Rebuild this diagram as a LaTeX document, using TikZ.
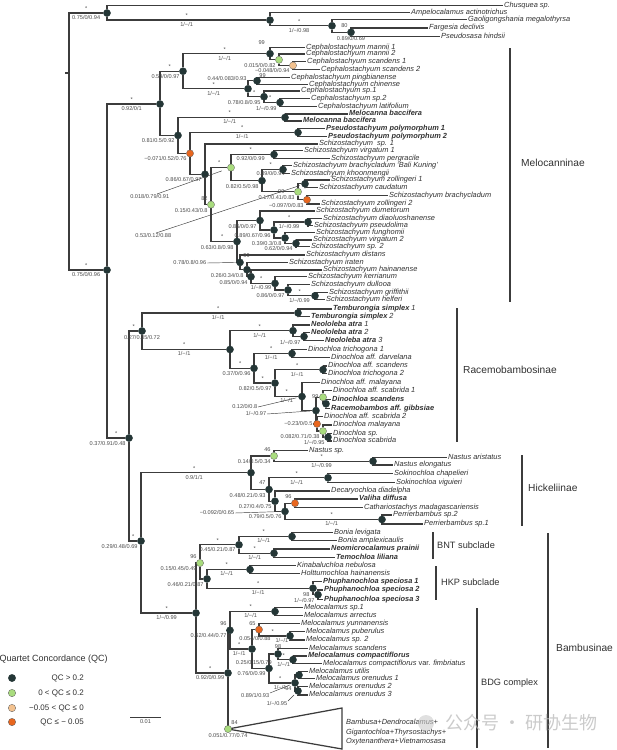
\documentclass[tikz,border=0pt]{standalone}
\usepackage{fontspec}
\setmainfont{Liberation Sans}
\newfontfamily\cjkfont{Noto Sans CJK SC}
\usetikzlibrary{backgrounds}

\definecolor{branchc}{HTML}{3C3C3C}
\definecolor{tipc}{HTML}{303030}
\definecolor{supc}{HTML}{4A4A4A}
\definecolor{qhigh}{HTML}{243636}
\definecolor{qlow}{HTML}{A9DC7E}
\definecolor{qzero}{HTML}{F3C28F}
\definecolor{qneg}{HTML}{E8661E}

\newcommand\taxfont{\fontsize{7.4}{8}\selectfont\itshape}
\newcommand\supfont{\fontsize{5.6}{6}\selectfont}

\begin{document}
\begin{tikzpicture}
      [x = 1pt, y = -1pt,
      brch/.style = {draw = branchc, line width = 1.25pt},
      ldr/.style = {draw = branchc, line width = 0.45pt},
      cbar/.style = {draw = branchc, line width = 1.4pt},
      taxon/.style = {
         anchor = west,
         inner sep = 1pt,
         text height = 5.4pt,
         text depth = 1.6pt,
         text = tipc,
         font = \taxfont
      },
      taxonb/.style = {taxon, font = \taxfont\bfseries},
      supt/.style = {
         font = \supfont,
         text = supc,
         inner sep = 0.6pt,
         text height = 4.1pt,
         text depth = 1.1pt
      },
      startag/.style = {supt, pos = .75, above = 0.3pt},
      triptag/.style = {supt, pos = .75, below = 1pt},
      qdot/.style = {
         circle,
         inner sep = 0pt,
         minimum size = 7.2pt,
         draw = black!65,
         line width = 0.3pt
      },
      qhi/.style = {qdot, fill = qhigh, draw = qhigh},
      qlo/.style = {qdot, fill = qlow},
      qzero/.style = {qdot, fill = qzero},
      qneg/.style = {qdot, fill = qneg},
      cladelab/.style = {anchor = west, inner sep = 1pt, text = tipc, font = \fontsize{10.2}{12}\selectfont},
      sublab/.style = {anchor = west, inner sep = 1pt, text = tipc, font = \fontsize{9.2}{11}\selectfont},
      keytext/.style = {anchor = east, inner sep = 1pt, text = tipc, font = \fontsize{8}{9}\selectfont}]

      \useasboundingbox (0,0) rectangle (617,750);

      % taxa
      \node[taxon] (chu) at (503,5.6) {Chusquea sp.};
      \node[taxon] (amp) at (410,12.8) {Ampelocalamus actinotrichus};
      \node[taxon] (gao) at (467,19.4) {Gaoligongshania megalothyrsa};
      \node[taxon] (far) at (428,28) {Fargesia declivis};
      \node[taxon] (pse) at (440,36.7) {Pseudosasa hindsii};
      \node[taxon] (cm1) at (305,47.7) {Cephalostachyum mannii 1};
      \node[taxon] (cm2) at (305,54) {Cephalostachyum mannii 2};
      \node[taxon] (cs1) at (306,61.5) {Cephalostachyum scandens 1};
      \node[taxon] (cs2) at (320,69.5) {Cephalostachyum scandens 2};
      \node[taxon] (cpi) at (290,77.3) {Cephalostachyum pingbianense};
      \node[taxon] (cch) at (308,84.3) {Cephalostachyum chinense};
      \node[taxon] (cp1) at (300,91) {Cephalostachyum sp.1};
      \node[taxon] (cp2) at (310,98.5) {Cephalostachyum sp.2};
      \node[taxon] (cla) at (317,106.5) {Cephalostachyum latifolium};
      \node[taxonb] (mb1) at (348,114) {Melocanna baccifera};
      \node[taxonb] (mb2) at (302,121) {Melocanna baccifera};
      \node[taxonb] (pp1) at (325,128.5) {Pseudostachyum polymorphum 1};
      \node[taxonb] (pp2) at (327,136.5) {Pseudostachyum polymorphum 2};
      \node[taxon] (ss1) at (318,144) {Schizostachyum \ sp. 1};
      \node[taxon] (sv1) at (303,150.7) {Schizostachyum virgatum 1};
      \node[taxon] (spe) at (330,158.3) {Schizostachyum pergracile};
      \node[taxon] (sbk) at (292,165.7) {Schizostachyum brachycladum ‘Bali Kuning’};
      \node[taxon] (skh) at (290,173.3) {Schizostachyum khoonmengii};
      \node[taxon] (sz1) at (330,180) {Schizostachyum zollingeri 1};
      \node[taxon] (sca) at (318,187.7) {Schizostachyum caudatum};
      \node[taxon] (sbr) at (388,195.7) {Schizostachyum brachycladum};
      \node[taxon] (sz2) at (320,204) {Schizostachyum zollingeri 2};
      \node[taxon] (sdu) at (315,211) {Schizostachyum dumetorum};
      \node[taxon] (sdi) at (322,218.3) {Schizostachyum diaoluoshanense};
      \node[taxon] (sps) at (313,225.7) {Schizostachyum pseudolima};
      \node[taxon] (sfu) at (315,232.7) {Schizostachyum funghomii};
      \node[taxon] (sv2) at (312,240) {Schizostachyum virgatum 2};
      \node[taxon] (ss2) at (310,246.7) {Schizostachyum sp. 2};
      \node[taxon] (sds) at (305,255) {Schizostachyum distans};
      \node[taxon] (sir) at (288,262.7) {Schizostachyum iraten};
      \node[taxon] (sha) at (322,270) {Schizostachyum hainanense};
      \node[taxon] (ske) at (307,276.7) {Schizostachyum kerrianum};
      \node[taxon] (sdl) at (310,284.3) {Schizostachyum dullooa};
      \node[taxon] (sgr) at (328,292.3) {Schizostachyum griffithii};
      \node[taxon] (shf) at (325,299.3) {Schizostachyum helferi};
      \node[taxon] (ts1) at (332,309) {\textbf{Temburongia simplex} 1};
      \node[taxon] (ts2) at (310,316.7) {\textbf{Temburongia simplex} 2};
      \node[taxon] (na1) at (310,325) {\textbf{Neololeba atra} 1};
      \node[taxon] (na2) at (310,332.3) {\textbf{Neololeba atra} 2};
      \node[taxon] (na3) at (324,340.7) {\textbf{Neololeba atra} 3};
      \node[taxon] (dt1) at (307,349.3) {Dinochloa trichogona 1};
      \node[taxon] (dda) at (330,357.7) {Dinochloa aff. darvelana};
      \node[taxon] (das) at (327,366) {Dinochloa aff. scandens};
      \node[taxon] (dt2) at (327,373.3) {Dinochloa trichogona 2};
      \node[taxon] (dam) at (320,382.3) {Dinochloa aff. malayana};
      \node[taxon] (db1) at (332,390.7) {Dinochloa aff. scabrida 1};
      \node[taxonb] (dsc) at (331,399.3) {Dinochloa scandens};
      \node[taxonb] (rag) at (330,408.3) {Racemobambos aff. gibbsiae};
      \node[taxon] (db2) at (323,416.7) {Dinochloa aff. scabrida 2};
      \node[taxon] (dma) at (332,425) {Dinochloa malayana};
      \node[taxon] (dsp) at (332,433.3) {Dinochloa sp.};
      \node[taxon] (dsb) at (332,441) {Dinochloa scabrida};
      \node[taxon] (nsp) at (308,450.7) {Nastus sp.};
      \node[taxon] (nar) at (447,457.3) {Nastus aristatus};
      \node[taxon] (nel) at (393,465) {Nastus elongatus};
      \node[taxon] (sch) at (393,473.3) {Sokinochloa chapelieri};
      \node[taxon] (svi) at (395,482.3) {Sokinochloa viguieri};
      \node[taxon] (ddi) at (330,491) {Decaryochloa diadelpha};
      \node[taxonb] (vdi) at (358,499) {Valiha diffusa};
      \node[taxon] (cma) at (363,507.3) {Cathariostachys madagascariensis};
      \node[taxon] (pb2) at (392,515) {Perrierbambus sp.2};
      \node[taxon] (pb1) at (423,524) {Perrierbambus sp.1};
      \node[taxon] (ble) at (333,532.3) {Bonia levigata};
      \node[taxon] (bam) at (337,540.7) {Bonia amplexicaulis};
      \node[taxonb] (npr) at (330,549) {Neomicrocalamus prainii};
      \node[taxonb] (tli) at (335,557.3) {Temochloa liliana};
      \node[taxon] (kne) at (296,565.7) {Kinabaluchloa nebulosa};
      \node[taxon] (hha) at (300,573.3) {Holttumochloa hainanensis};
      \node[taxonb] (ps1) at (322,581.7) {Phuphanochloa speciosa 1};
      \node[taxonb] (ps2) at (323,590) {Phuphanochloa speciosa 2};
      \node[taxonb] (ps3) at (323,599.3) {Phuphanochloa speciosa 3};
      \node[taxon] (ms1) at (303,607.3) {Melocalamus sp.1};
      \node[taxon] (mar) at (303,615.7) {Melocalamus arrectus};
      \node[taxon] (myu) at (300,623.3) {Melocalamus yunnanensis};
      \node[taxon] (mpu) at (305,631.7) {Melocalamus puberulus};
      \node[taxon] (ms2) at (305,640) {Melocalamus sp. 2};
      \node[taxon] (msc) at (308,648.3) {Melocalamus scandens};
      \node[taxonb] (mco) at (307,656) {Melocalamus compactiflorus};
      \node[taxon] (mcf) at (322,663.3) {Melocalamus compactiflorus \textup{var.} fimbriatus};
      \node[taxon] (mut) at (308,671.7) {Melocalamus utilis};
      \node[taxon] (mo1) at (315,678.3) {Melocalamus orenudus 1};
      \node[taxon] (mo2) at (308,686.7) {Melocalamus orenudus 2};
      \node[taxon] (mo3) at (308,695) {Melocalamus orenudus 3};
      \node[taxon] (bdg1) at (345,723) {Bambusa+Dendrocalamus+};
      \node[taxon] (bdg2) at (345,733) {Gigantochloa+Thyrsostachys+};
      \node[taxon] (bdg3) at (345,742) {Oxytenanthera+Vietnamosasa};

      % nodes
      \coordinate (r0) at (69,73);
      \coordinate (rstub) at (65,73);
      \node[qhi] (o1) at (107,13) {};
      \node[qhi] (o2) at (270,20.1) {};
      \node[qhi] (o3) at (332,25.8) {};
      \node[qhi, label = {[supt]above left:80}, label = {[supt]below:0.89/0/0.69}] (o4) at (351,32.3) {};
      \node[qhi] (a0) at (107,270) {};
      \node[qhi] (m0) at (160,104) {};
      \node[qhi, label = {[supt]below left:0.59/0/0.97}] (m1) at (183,71.2) {};
      \node[qhi, label = {[supt, label distance = 5pt]120:99}] (m2) at (270,53.7) {};
      \node[qlo, label = {[supt]below left:0.015/0/0.82}] (g1) at (279,59.8) {};
      \node[qzero, label = {[supt, yshift = 1pt]below left:−0.048/0/0.94}] (p1) at (293,65.5) {};
      \node[qhi] (m3) at (248,88.8) {};
      \node[qhi, label = {[supt, label distance = 6pt, yshift = 1.5pt]left:0.44/0.083/0.93}, label = {[supt, label distance = -1.5pt]above right:99}] (m3a) at (257,80.8) {};
      \node[qhi, label = {[supt]below left:0.78/0.8/0.95}] (m3b) at (264,96.7) {};
      \node[qhi, label = {[supt]below left:1/−/0.99}] (m3c) at (280,102.5) {};
      \node[qhi, label = {[supt]below left:0.81/0.5/0.92}] (m4) at (178,135.4) {};
      \node[qhi] (mc) at (285,117.5) {};
      \node[qneg, label = {[supt]below left:−0.071/0.52/0.76}] (pq) at (190,153.4) {};
      \node[qhi] (ps) at (298,132.5) {};
      \node[qhi, label = {[supt]below left:0.86/0.67/0.97}] (d1) at (205,174.3) {};
      \node[qlo, label = {[supt]above left:82}, label = {[supt]below left:0.15/0.43/0.8}] (g3) at (211,204.6) {};
      \node[qlo] (g2) at (231,167.6) {};
      \node[qhi] (s1) at (274,154.5) {};
      \node[qhi, label = {[supt]below left:0.82/0.5/0.98}] (s4) at (262,180.7) {};
      \node[qhi] (s2) at (283,169.5) {};
      \node[qlo, label = {[supt, label distance = 9pt]left:99}, label = {[supt]below left:0.17/0.41/0.83}] (g4) at (298,191.8) {};
      \node[qhi] (s3) at (305,183.8) {};
      \node[qneg, label = {[supt]below left:−0.097/0/0.83}] (s5) at (307,199.8) {};
      \node[qhi, label = {[supt]below left:0.63/0.8/0.98}] (l0) at (237,241.5) {};
      \node[qhi, label = {[supt]below left:0.86/0/0.97}] (u1) at (260,220.5) {};
      \node[qhi, label = {[supt]below left:0.89/0.67/0.96}] (u2) at (274,230) {};
      \node[qhi] (nd) at (308,222) {};
      \node[qhi, label = {[supt]below left:0.39/0.3/0.8}] (u3) at (285,238) {};
      \node[qhi, label = {[supt]below left:0.62/0/0.94}] (u4) at (296,243.4) {};
      \node[qhi, label = {[supt]above right:99}] (v1) at (240,262.4) {};
      \node[qhi, label = {[supt]below left:0.26/0.34/0.8}] (v2) at (247,269.7) {};
      \node[qhi, label = {[supt]below left:0.85/0/0.94}] (v3) at (251,276.7) {};
      \node[qhi] (v4) at (275,283.4) {};
      \node[qhi, label = {[supt]below left:0.86/0/0.97}] (v5) at (288,290) {};
      \node[qhi] (v6) at (315,295.8) {};
      \node[qhi, label = {[supt]below left:0.37/0.91/0.48}] (c0) at (129,438) {};
      \node[qhi, label = {[supt]below:0.27/0.35/0.72}] (rb) at (142,331) {};
      \node[qhi] (tem) at (298,312.9) {};
      \node[qhi] (r1) at (230,349.5) {};
      \node[qhi] (ne) at (293,330.7) {};
      \node[qhi, label = {[supt]below left:1/−/0.97}] (ne2) at (304,336.5) {};
      \node[qhi, label = {[supt]below left:0.37/0/0.96}] (r2) at (254,368.3) {};
      \node[qhi] (t1) at (292,353.5) {};
      \node[qhi, label = {[supt]below left:0.82/0.5/0.97}] (r3) at (275,383.1) {};
      \node[qhi] (t2) at (323,369.7) {};
      \node[qhi] (r4) at (302,396.5) {};
      \node[qhi] (r5) at (316,410.6) {};
      \node[qlo, label = {[supt]left:99}] (r6) at (323,397.2) {};
      \node[qhi] (r6b) at (326,403.8) {};
      \node[qneg, label = {[supt]left:−0.23/0/0.5}] (r7) at (317,423.9) {};
      \node[qlo, label = {[supt]below left:0.082/0.71/0.38}] (r8) at (323,431.1) {};
      \node[qhi, label = {[supt]below left:1/−/0.95}] (r9) at (328,437.2) {};
      \node[qhi, label = {[supt]below left:0.29/0.48/0.69}] (b0) at (141,541) {};
      \node[qhi] (h0) at (251,472.7) {};
      \node[qlo, label = {[supt]above left:46}, label = {[supt]below left:0.14/0.5/0.34}] (nsg) at (274,455.9) {};
      \node[qhi] (na) at (373,461.2) {};
      \node[qhi, label = {[supt]above left:47}, label = {[supt]below left:0.48/0.21/0.93}] (h1) at (269,489.5) {};
      \node[qhi] (sok) at (328,477.8) {};
      \node[qhi, label = {[supt]below left:0.27/0.4/0.75}] (h2) at (275,501.2) {};
      \node[qhi, label = {[supt]below left:0.79/0.5/0.76}] (h3) at (285,511.4) {};
      \node[qneg, label = {[supt]above left:96}] (h4) at (295,503.2) {};
      \node[qhi] (pb) at (382,519.5) {};
      \node[qhi] (b1) at (196,613) {};
      \node[qlo, label = {[supt]above left:96}, label = {[supt]below left:0.15/0.45/0.49}] (gb) at (200,563) {};
      \node[qhi] (bn) at (239,544.8) {};
      \node[qhi] (bon) at (292,536.5) {};
      \node[qhi] (neo) at (274,553.2) {};
      \node[qhi, label = {[supt]below left:0.46/0.21/0.87}] (hk) at (207,578.9) {};
      \node[qhi] (kin) at (250,569.5) {};
      \node[qhi] (phu) at (313,588.2) {};
      \node[qhi, label = {[supt, label distance = 4pt]left:98}, label = {[supt]below left:1/−/0.97}] (phu2) at (318,594.7) {};
      \node[qhi] (bd) at (228,673) {};
      \node[qhi, label = {[supt]below left:0.62/0.44/0.77}, label = {[supt]above left:96}] (mel) at (230,630.3) {};
      \node[qhi] (ml1) at (275,611.5) {};
      \node[qhi] (m5) at (252,649) {};
      \node[qneg, label = {[supt]above left:65}, label = {[supt, xshift = -4pt, label distance = 2.5pt]below:0.054/0/0.88}] (mo4) at (259,629.6) {};
      \node[qhi] (mpn) at (290,635.9) {};
      \node[qhi, label = {[supt]below left:0.76/0/0.99}] (m6) at (269,668.4) {};
      \node[qhi, label = {[supt]above:98}, label = {[supt, label distance = 4pt]below left:0.25/0.15/0.79}] (m7) at (278,654) {};
      \node[qhi] (m7b) at (293,659.7) {};
      \node[qhi, label = {[supt]below left:94}] (m8) at (295,682.9) {};
      \node[qhi] (mu) at (299,675) {};
      \node[qhi] (mo) at (298,690.9) {};
      \node[qlo, label = {[supt]above right:84}, label = {[supt]below:0.051/0.77/0.74}] (gt) at (228,729) {};

      % leader lines
      \coordinate (k1) at (157,194);
      \coordinate (k2) at (156,233);
      \coordinate (k3) at (207,263);
      \coordinate (k4) at (258,407);
      \coordinate (k5) at (267,414);
      \coordinate (k6) at (235,513);
      \coordinate (k7) at (270,693);
      \coordinate (k8) at (288,701);
      \draw[ldr, shorten <= 6pt] (g2) -- (k1) node[supt, anchor = north east, xshift = 13pt] {0.018/0.79/0.91};
      \draw[ldr, shorten <= 2pt] (s3) -- (k2) node[supt, anchor = north east, xshift = 16pt] {0.53/0.12/0.88};
      \draw[ldr] (v1) -- (k3) node[supt, anchor = east] {0.78/0.8/0.96};
      \draw[ldr, shorten <= 2pt] (r4) -- (k4) node[supt, anchor = east] {0.12/0/0.8};
      \draw[ldr, shorten <= 2pt] (r5) -- (k5) node[supt, anchor = east] {1/−/0.97};
      \draw[ldr, shorten <= 4pt] (h3) -- (k6) node[supt, anchor = east] {−0.092/0/0.65};
      \draw[ldr, shorten <= 2pt] (m8) -- (k7) node[supt, anchor = north east] {0.89/1/0.93};
      \draw[ldr, shorten <= 2pt] (mo) -- (k8) node[supt, anchor = north east] {1/−/0.95};

      \begin{scope}[on background layer]
      \draw[brch] (rstub) -- (r0);
      \draw[brch] (r0) |- (o1) node[startag] {*} node[triptag] {0.75/0/0.94};
      \draw[brch] (o1) |- (chu.west);
      \draw[brch] (o1) |- (o2) node[startag] {*} node[triptag] {1/−/1};
      \draw[brch] (o2) |- (amp.west);
      \draw[brch] (o2) |- (o3) node[startag] {*} node[triptag] {1/−/0.98};
      \draw[brch] (o3) |- (gao.west);
      \draw[brch] (o3) |- (o4);
      \draw[brch] (o4) |- (far.west);
      \draw[brch] (o4) |- (pse.west);

      \draw[brch] (r0) |- (a0) node[startag] {*} node[triptag] {0.75/0/0.96};
      \draw[brch] (a0) |- (m0) node[startag] {*} node[triptag] {0.92/0/1};
      \draw[brch] (m0) |- (m1) node[startag] {*};
      \draw[brch] (m1) |- (m2) node[startag] {*} node[triptag] {1/−/1};
      \draw[brch] (m2) |- (cm1.west);
      \draw[brch] (m2) |- (g1);
      \draw[brch] (g1) |- (cm2.west);
      \draw[brch] (g1) |- (p1);
      \draw[brch] (p1) |- (cs1.west);
      \draw[brch] (p1) |- (cs2.west);
      \draw[brch] (m1) |- (m3) node[startag] {*} node[triptag] {1/−/1};
      \draw[brch] (m3) |- (m3a);
      \draw[brch] (m3a) |- (cpi.west);
      \draw[brch] (m3a) |- (cch.west);
      \draw[brch] (m3) |- (m3b) node[startag] {*};
      \draw[brch] (m3b) |- (cp1.west);
      \draw[brch] (m3b) |- (m3c) node[startag] {*};
      \draw[brch] (m3c) |- (cp2.west);
      \draw[brch] (m3c) |- (cla.west);
      \draw[brch] (m0) |- (m4);
      \draw[brch] (m4) |- (mc) node[startag] {*} node[triptag] {1/−/1};
      \draw[brch] (mc) |- (mb1.west);
      \draw[brch] (mc) |- (mb2.west);
      \draw[brch] (m4) |- (pq);
      \draw[brch] (pq) |- (ps) node[startag] {*} node[triptag] {1/−/1};
      \draw[brch] (ps) |- (pp1.west);
      \draw[brch] (ps) |- (pp2.west);
      \draw[brch] (pq) |- (d1);
      \draw[brch] (d1) |- (ss1.west);
      \draw[brch] (d1) |- (g3);
      \draw[brch] (g3) |- (g2) node[startag] {*};
      \draw[brch] (g2) |- (s1) node[startag] {*} node[triptag] {0.92/0/0.99};
      \draw[brch] (s1) |- (sv1.west);
      \draw[brch] (s1) |- (spe.west);
      \draw[brch] (g2) |- (s4);
      \draw[brch] (s4) |- (s2) node[startag] {*} node[triptag] {0.89/0/0.94};
      \draw[brch] (s2) |- (sbk.west);
      \draw[brch] (s2) |- (skh.west);
      \draw[brch] (s4) |- (g4);
      \draw[brch] (g4) |- (s3);
      \draw[brch] (s3) |- (sz1.west);
      \draw[brch] (s3) |- (sca.west);
      \draw[brch] (g4) |- (s5);
      \draw[brch] (s5) |- (sbr.west);
      \draw[brch] (s5) |- (sz2.west);
      \draw[brch] (g3) |- (l0) node[startag] {*};
      \draw[brch] (l0) |- (u1);
      \draw[brch] (u1) |- (sdu.west);
      \draw[brch] (u1) |- (u2);
      \draw[brch] (u2) |- (nd) node[startag] {*} node[triptag] {1/−/0.99};
      \draw[brch] (nd) |- (sdi.west);
      \draw[brch] (nd) |- (sps.west);
      \draw[brch] (u2) |- (u3);
      \draw[brch] (u3) |- (sfu.west);
      \draw[brch] (u3) |- (u4);
      \draw[brch] (u4) |- (sv2.west);
      \draw[brch] (u4) |- (ss2.west);
      \draw[brch] (l0) |- (v1);
      \draw[brch] (v1) |- (sds.west);
      \draw[brch] (v1) |- (v2);
      \draw[brch] (v2) |- (sir.west);
      \draw[brch] (v2) |- (v3);
      \draw[brch] (v3) |- (sha.west);
      \draw[brch] (v3) |- (v4) node[startag] {*} node[triptag] {1/−/0.99};
      \draw[brch] (v4) |- (ske.west);
      \draw[brch] (v4) |- (v5);
      \draw[brch] (v5) |- (sdl.west);
      \draw[brch] (v5) |- (v6) node[startag] {*} node[triptag] {1/−/0.99};
      \draw[brch] (v6) |- (sgr.west);
      \draw[brch] (v6) |- (shf.west);

      \draw[brch] (a0) |- (c0) node[startag] {*};
      \draw[brch] (c0) |- (rb) node[startag] {*};
      \draw[brch] (rb) |- (tem) node[startag] {*} node[triptag] {1/−/1};
      \draw[brch] (tem) |- (ts1.west);
      \draw[brch] (tem) |- (ts2.west);
      \draw[brch] (rb) |- (r1) node[startag] {*} node[triptag] {1/−/1};
      \draw[brch] (r1) |- (ne) node[startag] {*} node[triptag] {1/−/1};
      \draw[brch] (ne) |- (na1.west);
      \draw[brch] (ne) |- (ne2);
      \draw[brch] (ne2) |- (na2.west);
      \draw[brch] (ne2) |- (na3.west);
      \draw[brch] (r1) |- (r2) node[startag] {*};
      \draw[brch] (r2) |- (t1) node[startag] {*} node[triptag] {1/−/1};
      \draw[brch] (t1) |- (dt1.west);
      \draw[brch] (t1) |- (dda.west);
      \draw[brch] (r2) |- (r3) node[startag] {*};
      \draw[brch] (r3) |- (t2) node[startag] {*} node[triptag] {1/−/1};
      \draw[brch] (t2) |- (das.west);
      \draw[brch] (t2) |- (dt2.west);
      \draw[brch] (r3) |- (r4) node[startag] {*} node[triptag] {1/−/1};
      \draw[brch] (r4) |- (dam.west);
      \draw[brch] (r4) |- (r5);
      \draw[brch] (r5) |- (r6);
      \draw[brch] (r6) |- (db1.west);
      \draw[brch] (r6) |- (r6b);
      \draw[brch] (r6b) |- (dsc.west);
      \draw[brch] (r6b) |- (rag.west);
      \draw[brch] (r5) |- (r7);
      \draw[brch] (r7) |- (db2.west);
      \draw[brch] (r7) |- (r8);
      \draw[brch] (r8) |- (dma.west);
      \draw[brch] (r8) |- (r9);
      \draw[brch] (r9) |- (dsp.west);
      \draw[brch] (r9) |- (dsb.west);

      \draw[brch] (c0) |- (b0) node[startag] {*};
      \draw[brch] (b0) |- (h0) node[startag] {*} node[triptag] {0.9/1/1};
      \draw[brch] (h0) |- (nsg);
      \draw[brch] (nsg) |- (nsp.west);
      \draw[brch] (nsg) |- (na) node[startag] {*} node[triptag] {1/−/0.99};
      \draw[brch] (na) |- (nar.west);
      \draw[brch] (na) |- (nel.west);
      \draw[brch] (h0) |- (h1);
      \draw[brch] (h1) |- (sok) node[startag] {*} node[triptag] {1/−/1};
      \draw[brch] (sok) |- (sch.west);
      \draw[brch] (sok) |- (svi.west);
      \draw[brch] (h1) |- (h2);
      \draw[brch] (h2) |- (ddi.west);
      \draw[brch] (h2) |- (h3);
      \draw[brch] (h3) |- (h4);
      \draw[brch] (h4) |- (vdi.west);
      \draw[brch] (h4) |- (cma.west);
      \draw[brch] (h3) |- (pb) node[startag] {*} node[triptag] {1/−/1};
      \draw[brch] (pb) |- (pb2.west);
      \draw[brch] (pb) |- (pb1.west);

      \draw[brch] (b0) |- (b1) node[startag] {*} node[triptag] {1/−/0.99};
      \draw[brch] (b1) |- (gb);
      \draw[brch] (gb) |- (bn) node[startag] {*} node[triptag] {0.45/0.21/0.87};
      \draw[brch] (bn) |- (bon) node[startag] {*} node[triptag] {1/−/1};
      \draw[brch] (bon) |- (ble.west);
      \draw[brch] (bon) |- (bam.west);
      \draw[brch] (bn) |- (neo) node[startag] {*} node[triptag] {1/−/1};
      \draw[brch] (neo) |- (npr.west);
      \draw[brch] (neo) |- (tli.west);
      \draw[brch] (gb) |- (hk);
      \draw[brch] (hk) |- (kin) node[startag] {*} node[triptag] {1/−/1};
      \draw[brch] (kin) |- (kne.west);
      \draw[brch] (kin) |- (hha.west);
      \draw[brch] (hk) |- (phu) node[startag] {*} node[triptag] {1/−/1};
      \draw[brch] (phu) |- (ps1.west);
      \draw[brch] (phu) |- (phu2);
      \draw[brch] (phu2) |- (ps2.west);
      \draw[brch] (phu2) |- (ps3.west);
      \draw[brch] (b1) |- (bd) node[startag] {*} node[triptag] {0.92/0/0.99};
      \draw[brch] (bd) |- (mel);
      \draw[brch] (mel) |- (ml1) node[startag] {*} node[triptag] {1/−/1};
      \draw[brch] (ml1) |- (ms1.west);
      \draw[brch] (ml1) |- (mar.west);
      \draw[brch] (mel) |- (m5) node[startag] {*} node[triptag] {1/−/1};
      \draw[brch] (m5) |- (mo4);
      \draw[brch] (mo4) |- (myu.west);
      \draw[brch] (mo4) |- (mpn) node[startag] {*} node[supt, pos = .92, below = 1pt] {1/−/1};
      \draw[brch] (mpn) |- (mpu.west);
      \draw[brch] (mpn) |- (ms2.west);
      \draw[brch] (m5) |- (m6);
      \draw[brch] (m6) |- (m7);
      \draw[brch] (m7) |- (msc.west);
      \draw[brch] (m7) |- (m7b) node[startag] {*} node[triptag] {1/−/1};
      \draw[brch] (m7b) |- (mco.west);
      \draw[brch] (m7b) |- (mcf.west);
      \draw[brch] (m6) |- (m8) node[startag] {*} node[triptag] {1/−/1};
      \draw[brch] (m8) |- (mu);
      \draw[brch] (mu) |- (mut.west);
      \draw[brch] (mu) |- (mo1.west);
      \draw[brch] (m8) |- (mo);
      \draw[brch] (mo) |- (mo2.west);
      \draw[brch] (mo) |- (mo3.west);
      \draw[brch] (bd) |- (gt);
      \draw[brch, fill = white] (gt.center) -- (342,708) -- (342,749) -- cycle;
      \end{scope}

      % clade bars
      \draw[cbar] (510,48) -- (510,302);
      \node[cladelab] (lmel) at (520,163) {Melocanninae};
      \draw[cbar] (457,308) -- (457,442);
      \node[cladelab] (lrac) at (462,370) {Racemobambosinae};
      \draw[cbar] (522,455) -- (522,526);
      \node[cladelab] (lhic) at (527,488) {Hickeliinae};
      \draw[cbar] (433,532) -- (433,559);
      \node[sublab] (lbnt) at (436,545) {BNT subclade};
      \draw[cbar] (436,566) -- (436,600);
      \node[sublab] (lhkp) at (440,582) {HKP subclade};
      \draw[cbar] (477,608) -- (477,748);
      \node[sublab] (lbdg) at (480,683) {BDG complex};
      \draw[cbar] (548,533) -- (548,748);
      \node[cladelab] (lbam) at (555,648) {Bambusinae};

      % legend
      \node[anchor = west, inner sep = 1pt, text = tipc, font = \fontsize{9}{10}\selectfont] (qtitle) at (-1.5,659) {Quartet Concordance (QC)};
      \node[qhi, minimum size = 7.4pt] (key1) at (12,678) {};
      \node[qlo, minimum size = 7.4pt] (key2) at (12,693) {};
      \node[qzero, minimum size = 7.4pt] (key3) at (12,708) {};
      \node[qneg, minimum size = 7.4pt] (key4) at (12,722) {};
      \node[keytext] (ktext1) at (85,678) {QC > 0.2};
      \node[keytext] (ktext2) at (85,693) {0 < QC ≤ 0.2};
      \node[keytext] (ktext3) at (85,708) {−0.05 < QC ≤ 0};
      \node[keytext] (ktext4) at (85,722) {QC ≤ − 0.05};
      \draw[brch, line width = 0.9pt] (130,717) -- (161,717) node[supt, midway, below = 1pt] (sbar) {0.01};

      % watermark
      \fill[gray!40, opacity = 0.6] (426,723) circle (8);
      \node[anchor = west, text = gray!55, opacity = 0.75, font = \cjkfont\fontsize{18}{18}\selectfont] (wmark) at (442,723) {公众号 · 研协生物};

   \end{tikzpicture}
\end{document}
